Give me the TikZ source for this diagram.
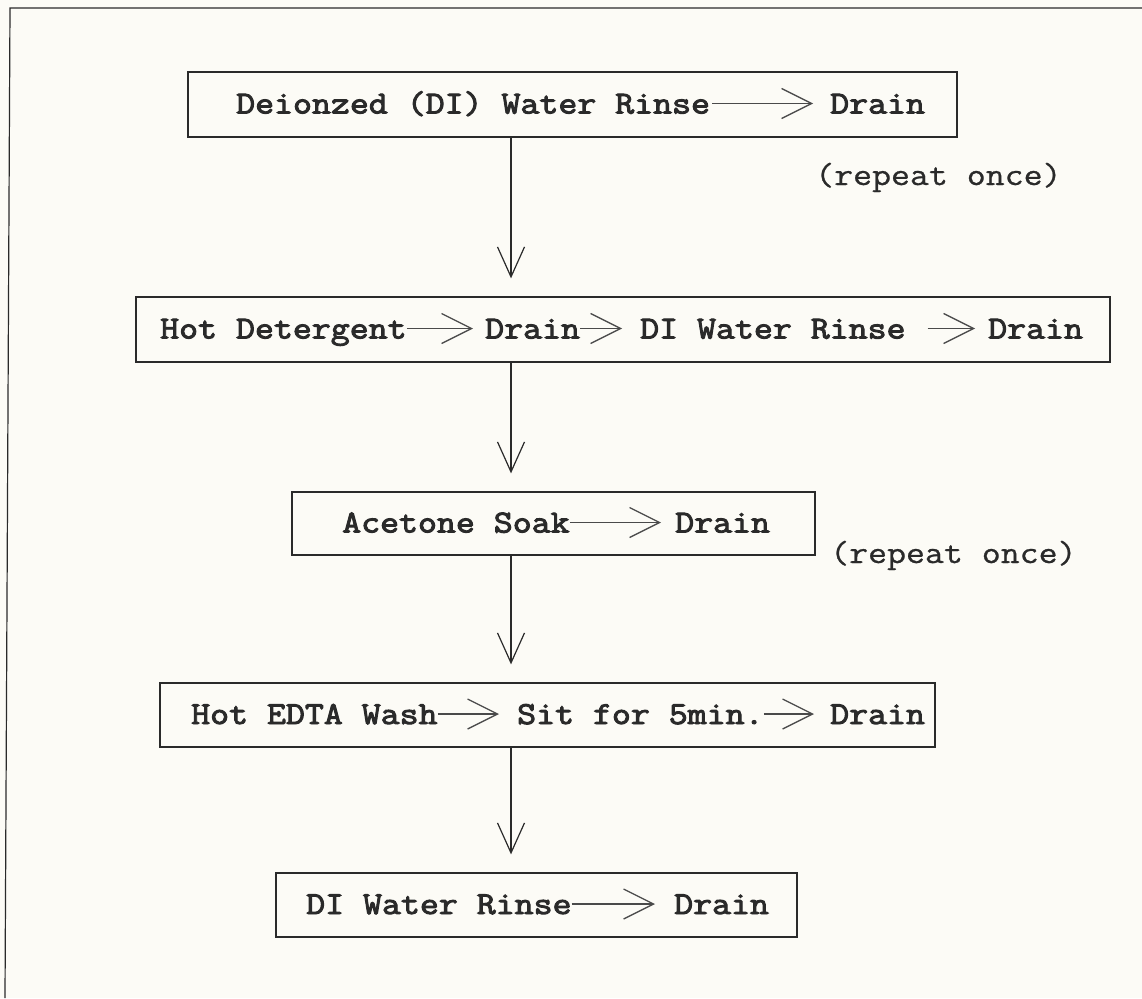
\documentclass[tikz,border=0pt]{standalone}
\usepackage{fontspec}
\newfontfamily\stepfont{Latin Modern Mono}[FakeStretch=1.15, FakeBold=3]
\newfontfamily\notefont{Latin Modern Mono}[FakeStretch=1.15, FakeBold=0.8]
\usetikzlibrary{arrows.meta}
\definecolor{paper}{HTML}{FCFBF6}
\definecolor{ink}{HTML}{2A2A2A}
\begin{document}
\begin{tikzpicture}[x=1pt,y=-1pt,
  stepbox/.style={draw=ink, line width=1.3pt, inner sep=0pt},
  lbl/.style={font=\stepfont\fontsize{32}{36}\selectfont, text=ink, inner sep=0pt, anchor=base west},
  note/.style={font=\notefont\fontsize{32}{36}\selectfont, text=ink, inner sep=0pt, anchor=base west},
  flow/.style={draw=ink!85, line width=1.1pt, -{Straight Barb[length=30pt,width=30pt,line width=1.3pt]}},
  down/.style={draw=ink, line width=1.2pt, shorten >=18pt, -{Straight Barb[length=30pt,width=27pt,line width=1.2pt]}}]

% page and frame
\useasboundingbox (0,0) rectangle (1142,998);
\fill[paper] (0,0) rectangle (1142,998);
\draw[ink, line width=1.2pt] (1142,8) -- (10,8) -- (5,998);

% vertical spine of the flow
\coordinate (spine) at (511,0);

% step 1
\node[stepbox, minimum width=769pt, minimum height=65pt] (b1) at (572.5,104.5) {};
\node[lbl] (t11) at (236,113.5) {Deionzed (DI) Water Rinse};
\node[lbl] (t12) at (830,113.5) {Drain};
\draw[flow, shorten <=2pt, shorten >=17pt] ([yshift=10pt]t11.base east) -- ([yshift=10pt]t12.base west);
\node[note] (r1) at (815,185) {(repeat once)};

% step 2
\node[stepbox, minimum width=974pt, minimum height=65pt] (b2) at (623,329.5) {};
\node[lbl] (t21) at (160,338.5) {Hot Detergent};
\node[lbl] (t22) at (485,338.5) {Drain};
\node[lbl] (t23) at (640,338.5) {DI Water Rinse};
\node[lbl] (t24) at (988,338.5) {Drain};
\draw[flow, shorten >=12pt] ([yshift=10pt]t21.base east) -- ([yshift=10pt]t22.base west);
\draw[flow, shorten >=18pt] ([yshift=10pt]t22.base east) -- ([yshift=10pt]t23.base west);
\draw[flow, shorten <=22pt, shorten >=13pt] ([yshift=10pt]t23.base east) -- ([yshift=10pt]t24.base west);

% step 3
\node[stepbox, minimum width=523pt, minimum height=63pt] (b3) at (553.5,523.5) {};
\node[lbl] (t31) at (342,532.5) {Acetone Soak};
\node[lbl] (t32) at (675,532.5) {Drain};
\draw[flow, shorten >=14pt] ([yshift=10pt]t31.base east) -- ([yshift=10pt]t32.base west);
\node[note] (r2) at (830,563) {(repeat once)};

% step 4
\node[stepbox, minimum width=775pt, minimum height=64pt] (b4) at (547.5,715) {};
\node[lbl] (t41) at (191,724) {Hot EDTA Wash};
\node[lbl] (t42) at (517,724) {Sit for 5min.};
\node[lbl] (t43) at (830,724) {Drain};
\draw[flow, shorten >=18pt] ([yshift=10pt]t41.base east) -- ([yshift=10pt]t42.base west);
\draw[flow, shorten >=16pt] ([yshift=10pt]t42.base east) -- ([yshift=10pt]t43.base west);

% step 5
\node[stepbox, minimum width=521pt, minimum height=64pt] (b5) at (536.5,905) {};
\node[lbl] (t51) at (306,914) {DI Water Rinse};
\node[lbl] (t52) at (674,914) {Drain};
\draw[flow, shorten >=19pt] ([yshift=10pt]t51.base east) -- ([yshift=10pt]t52.base west);

% connectors between steps
\draw[down] (b1.south -| spine) -- (b2.north -| spine);
\draw[down] (b2.south -| spine) -- (b3.north -| spine);
\draw[down] (b3.south -| spine) -- (b4.north -| spine);
\draw[down] (b4.south -| spine) -- (b5.north -| spine);
\end{tikzpicture}
\end{document}
